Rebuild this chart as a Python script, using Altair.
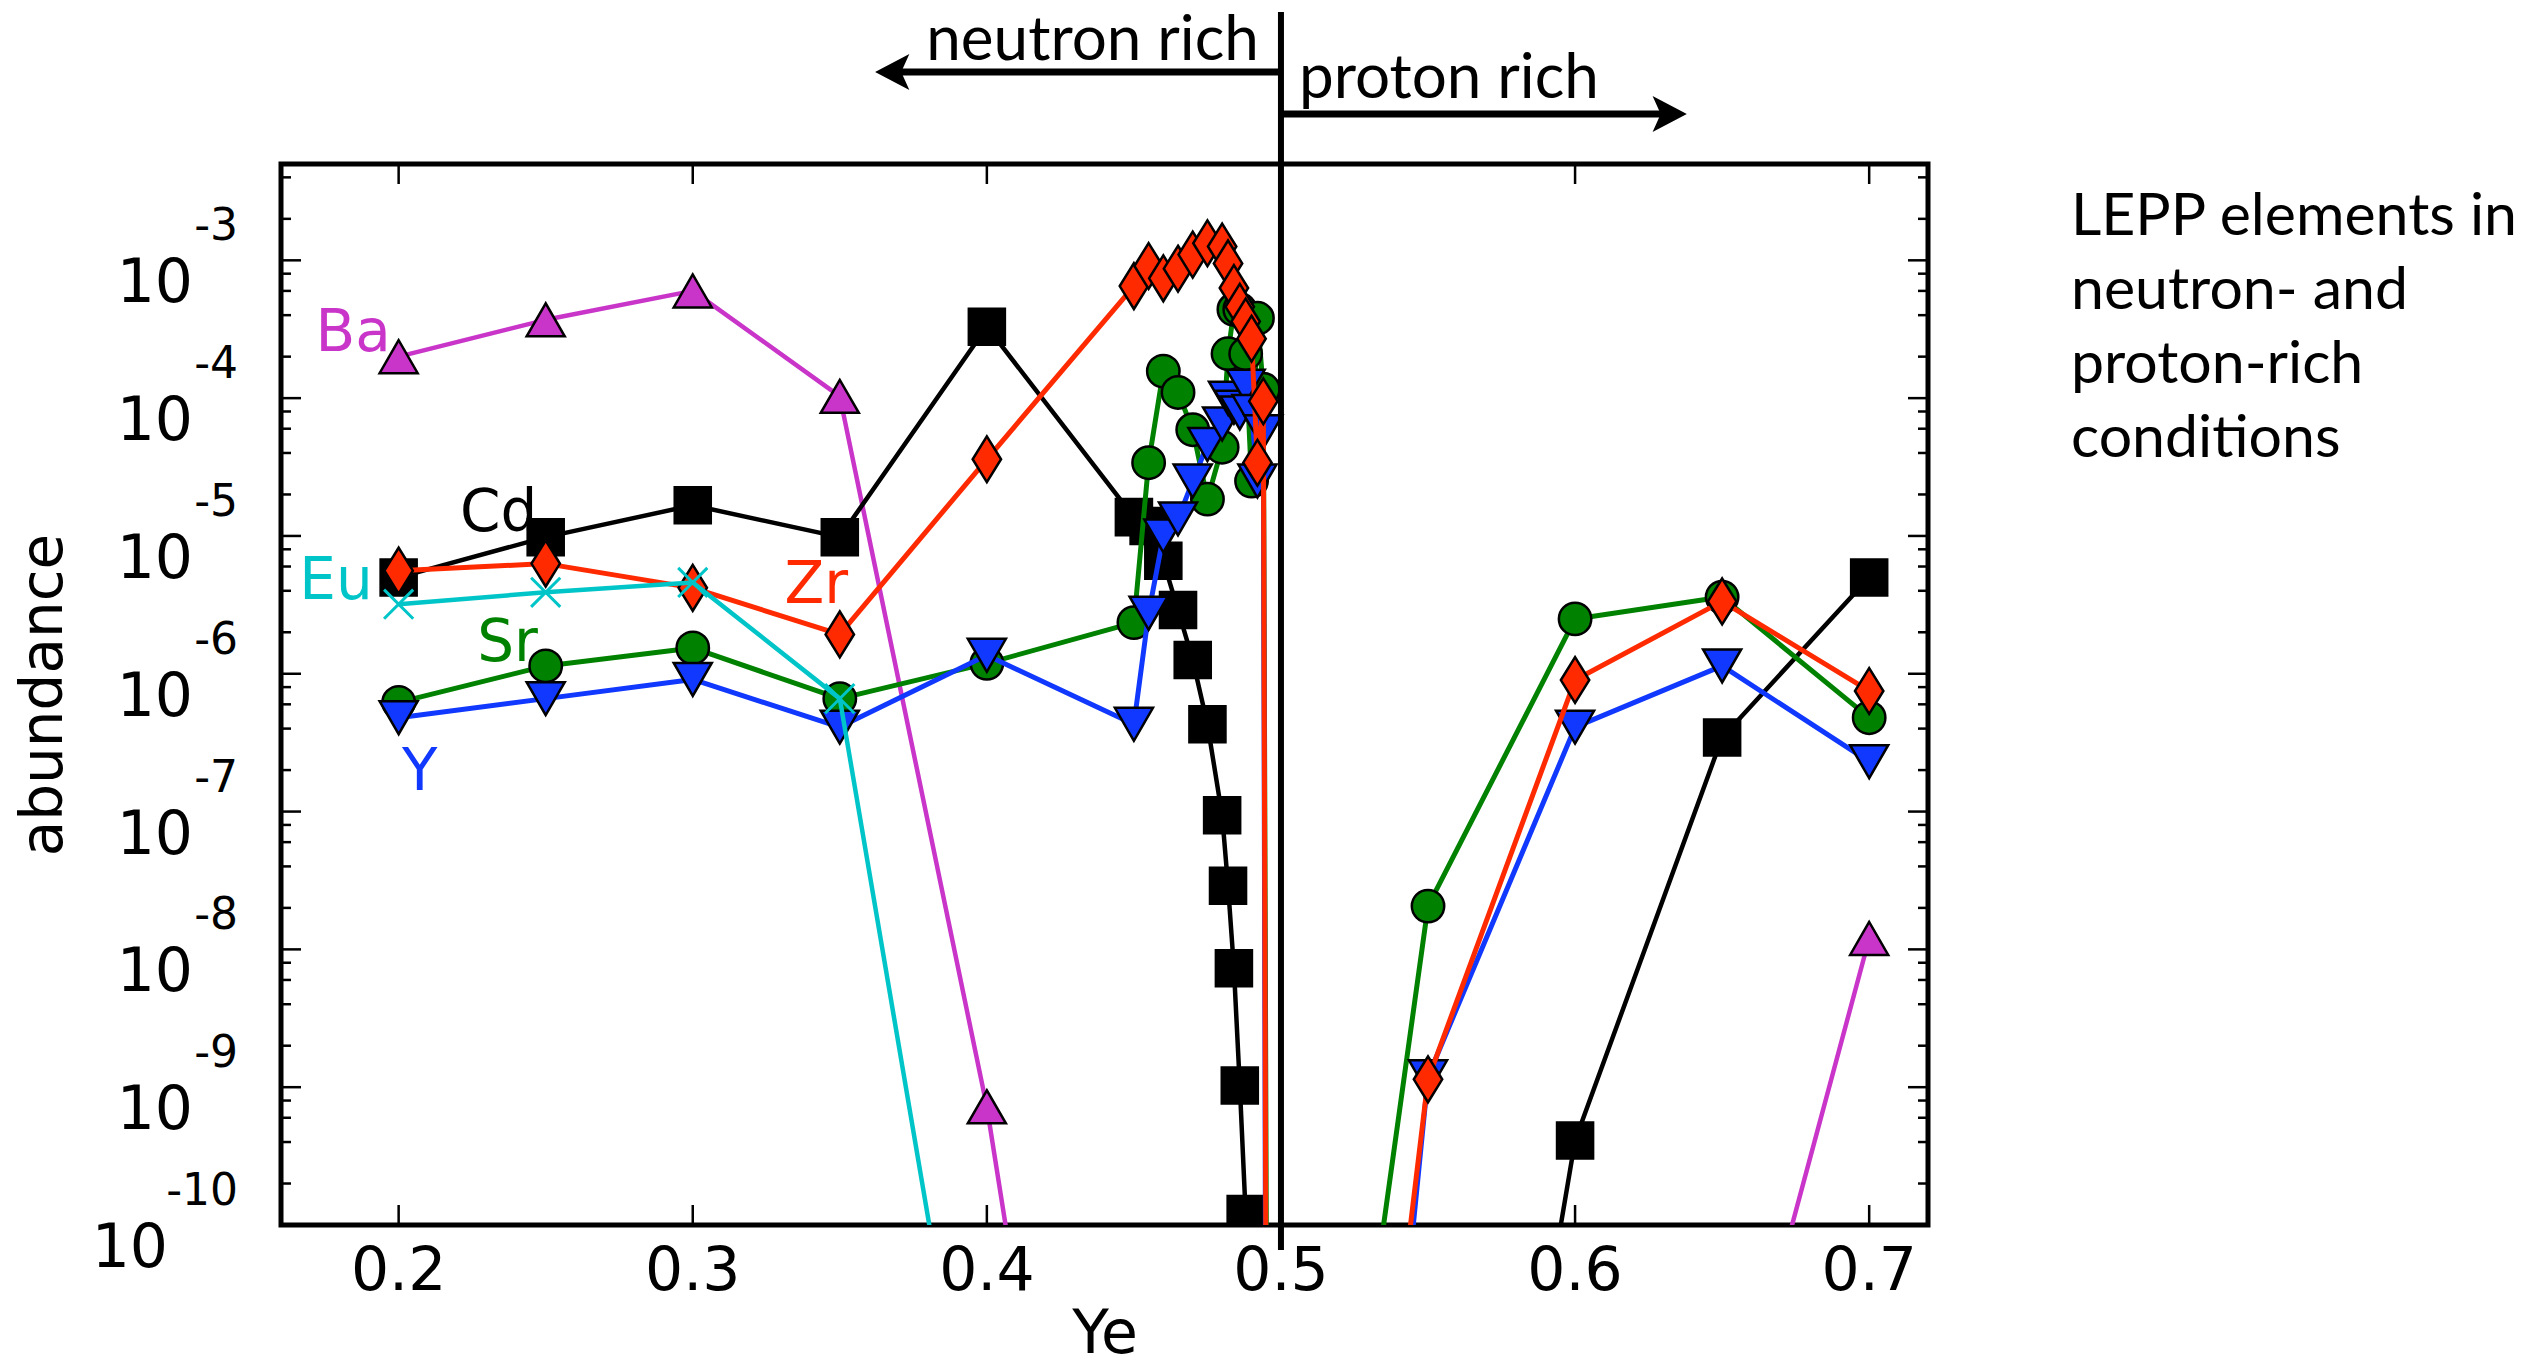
import altair as alt
import pandas as pd

# ---------------------------------------------------------------------------
# Abundances of LEPP elements versus electron fraction Ye
# ---------------------------------------------------------------------------
YE = [0.2, 0.25, 0.3, 0.35, 0.4, 0.45, 0.455, 0.46, 0.465, 0.47, 0.475, 0.48,
      0.482, 0.484, 0.486, 0.488, 0.49, 0.492, 0.494, 0.496, 0.55, 0.6, 0.65, 0.7]

N = None  # no value for this Ye

BA = [2.0e-4, 3.7e-4, 6.0e-4, 1.03e-4, 7.2e-10, 1.3e-16, N, N, N, N, N, N,
      N, N, N, N, N, N, N, N, N, N, 1.3e-12, 1.2e-8]
CD = [5.0e-6, 9.8e-6, 1.67e-5, 9.8e-6, 3.3e-4, 1.37e-5, 1.18e-5, 6.6e-6, 2.9e-6, 1.26e-6, 4.3e-7, 9.4e-8,
      2.9e-8, 7.3e-9, 1.03e-9, 1.2e-10, N, N, N, N, 2.0e-16, 4.1e-10, 3.45e-7, 5.0e-6]
SR = [6.2e-7, 1.14e-6, 1.54e-6, 6.6e-7, 1.19e-6, 2.35e-6, 3.4e-5, 1.57e-4, 1.1e-4, 5.9e-5, 1.85e-5, 4.4e-5,
      2.1e-4, 4.4e-4, 4.4e-4, 2.1e-4, 2.5e-5, 3.8e-4, 1.16e-4, 1.1e-16, 2.06e-8, 2.5e-6, 3.6e-6, 4.8e-7]
Y = [4.8e-7, 6.6e-7, 9.1e-7, 4.1e-7, 1.36e-6, 4.3e-7, 2.75e-6, 1.0e-5, 1.33e-5, 2.5e-5, 4.6e-5, 6.5e-5,
     1.0e-4, 8.6e-5, 7.8e-5, 1.22e-4, 8.0e-5, 2.5e-5, 5.7e-5, 3.0e-21, 1.19e-9, 4.1e-7, 1.14e-6, 2.3e-7]
ZR = [5.6e-6, 6.3e-6, 4.2e-6, 1.93e-6, 3.6e-5, 6.5e-4, 9.1e-4, 7.4e-4, 8.7e-4, 1.1e-3, 1.33e-3, 1.26e-3,
      9.5e-4, 6.3e-4, 4.6e-4, 3.6e-4, 2.7e-4, 3.4e-5, 9.5e-5, 3.0e-19, 1.14e-9, 9.0e-7, 3.35e-6, 7.5e-7]
EU = [3.2e-6, 3.9e-6, 4.6e-6, 6.6e-7, 3.5e-13, N, N, N, N, N, N, N,
      N, N, N, N, N, N, N, N, N, N, N, N]

SERIES = {"Ba": BA, "Cd": CD, "Sr": SR, "Y": Y, "Zr": ZR, "Eu": EU}
DRAW_ORDER = ["Ba", "Cd", "Sr", "Y", "Zr", "Eu"]

COLORS = {"Ba": "#C935C9", "Cd": "#000000", "Sr": "#008200", "Y": "#1038FF",
          "Zr": "#FF2A00", "Eu": "#00C5C8"}

# element name labels placed next to their curves (Ye, abundance)
LABEL_NAMES = ["Ba", "Cd", "Eu", "Zr", "Sr", "Y"]
LABEL_YE = [0.1845, 0.234, 0.1787, 0.342, 0.237, 0.2072]
LABEL_AB = [2.9e-4, 1.45e-5, 4.6e-6, 4.3e-6, 1.65e-6, 1.92e-7]

YE_BOUNDARY = 0.5
NEUTRON_ARROW_TIP = 0.362
PROTON_ARROW_TIP = 0.638

X_TICKS = [0.2, 0.3, 0.4, 0.5, 0.6, 0.7]
X_TICK_LABELS = ["0.2", "0.3", "0.4", "0.5", "0.6", "0.7"]
Y_EXPONENTS = [-3, -4, -5, -6, -7, -8, -9, -10]
Y_MAJOR = [10.0 ** k for k in Y_EXPONENTS]
Y_MINOR = [m * 10.0 ** k for k in range(-10, -2) for m in (2, 4, 6, 8) if m * 10.0 ** k < 5e-3]

SIDE_NOTE = "LEPP elements in\nneutron- and\nproton-rich\nconditions"

# ---------------------------------------------------------------------------
W, H = 1647, 1061
AXFONT = "DejaVu Sans"
NOTEFONT = "Lato"

xs = alt.Scale(domain=[0.16, 0.72], nice=False, zero=False)
ys = alt.Scale(type="log", domain=[1e-10, 5e-3], nice=False)


def xq(f):
    return alt.X(f"{f}:Q", scale=xs, axis=None)


def yq(f):
    return alt.Y(f"{f}:Q", scale=ys, axis=None)


def one_row():
    return pd.DataFrame({"k": [0]})


rows = []
for name, vals in SERIES.items():
    for ye, v in zip(YE, vals):
        if v is not None:
            rows.append({"ye": ye, "abundance": v, "element": name})
df = pd.DataFrame(rows)

THIN_DIAMOND = "M0,-1L0.62,0L0,1L-0.62,0Z"
X_CROSS = "M-1,-1L1,1M-1,1L1,-1"

MARKERS = {
    "Ba": dict(shape="triangle-up", size=1450),
    "Cd": dict(shape="square", size=1300),
    "Sr": dict(shape="circle", size=1050),
    "Y": dict(shape="triangle-down", size=1450),
    "Zr": dict(shape=THIN_DIAMOND, size=2100),
}

layers = []

# element name labels (drawn first so the curves sit on top)
lab_df = pd.DataFrame({"element": LABEL_NAMES, "ye": LABEL_YE, "abundance": LABEL_AB})
layers.append(
    alt.Chart(lab_df).mark_text(font=AXFONT, fontSize=58, align="center", baseline="middle").encode(
        x=xq("ye"), y=yq("abundance"), text="element:N",
        color=alt.Color("element:N", scale=alt.Scale(domain=list(COLORS.keys()),
                                                     range=list(COLORS.values())), legend=None),
    )
)

for name in DRAW_ORDER:
    col = COLORS[name]
    base = alt.Chart(df).transform_filter(alt.datum.element == name)
    lw = 4.5 if name in ("Cd", "Ba", "Eu") else 5
    layers.append(
        base.mark_line(color=col, strokeWidth=lw, clip=True, strokeJoin="round").encode(
            x=xq("ye"), y=yq("abundance"), order="ye:Q")
    )
    if name == "Eu":
        layers.append(
            base.mark_point(shape=X_CROSS, size=850, filled=False, stroke=col, strokeWidth=3,
                            opacity=1, clip=True).encode(x=xq("ye"), y=yq("abundance"))
        )
    else:
        m = MARKERS[name]
        layers.append(
            base.mark_point(shape=m["shape"], size=m["size"], filled=True, fill=col, stroke="black",
                            strokeWidth=2.5, opacity=1, fillOpacity=1, strokeOpacity=1,
                            clip=True).encode(x=xq("ye"), y=yq("abundance"))
        )

# inward ticks on all four sides
maj_df = pd.DataFrame({"v": Y_MAJOR})
min_df = pd.DataFrame({"v": Y_MINOR})
xt_df = pd.DataFrame({"v": X_TICKS, "label": X_TICK_LABELS})
tick = dict(color="black", strokeWidth=2.5)
layers += [
    alt.Chart(maj_df).mark_rule(**tick).encode(y=yq("v"), x=alt.value(0), x2=alt.value(20)),
    alt.Chart(min_df).mark_rule(**tick).encode(y=yq("v"), x=alt.value(0), x2=alt.value(10)),
    alt.Chart(maj_df).mark_rule(**tick).encode(y=yq("v"), x=alt.value(W), x2=alt.value(W - 20)),
    alt.Chart(min_df).mark_rule(**tick).encode(y=yq("v"), x=alt.value(W), x2=alt.value(W - 10)),
    alt.Chart(xt_df).mark_rule(**tick).encode(x=xq("v"), y=alt.value(H), y2=alt.value(H - 20)),
    alt.Chart(xt_df).mark_rule(**tick).encode(x=xq("v"), y=alt.value(0), y2=alt.value(20)),
]

# tick labels: x as plain numbers, y as 10 with a raised exponent
exp_df = pd.DataFrame({"v": Y_MAJOR, "exp": [str(k) for k in Y_EXPONENTS]})
layers += [
    alt.Chart(xt_df).mark_text(font=AXFONT, fontSize=60, align="center", baseline="middle").encode(
        x=xq("v"), y=alt.value(H + 47), text="label:N"),
    alt.Chart(exp_df).transform_filter("datum.v > 5e-10").mark_text(
        font=AXFONT, fontSize=60, align="right", baseline="middle", dy=24).encode(
        y=yq("v"), x=alt.value(-88), text=alt.value("10")),
    alt.Chart(exp_df).transform_filter("datum.v < 5e-10").mark_text(
        font=AXFONT, fontSize=60, align="right", baseline="middle", dy=24).encode(
        y=yq("v"), x=alt.value(-113), text=alt.value("10")),
    alt.Chart(exp_df).mark_text(font=AXFONT, fontSize=44, align="right", baseline="middle", dy=-33).encode(
        y=yq("v"), x=alt.value(-43), text="exp:N"),
    alt.Chart(one_row()).mark_text(font=AXFONT, fontSize=60, align="center", baseline="middle").encode(
        x=alt.value(824), y=alt.value(H + 110), text=alt.value("Ye")),
    alt.Chart(one_row()).mark_text(font=AXFONT, fontSize=58, align="center", baseline="middle",
                                   angle=270).encode(
        x=alt.value(-236), y=alt.value(531), text=alt.value("abundance")),
]

# neutron-rich / proton-rich divider and arrows
bound_df = pd.DataFrame({"ye": [YE_BOUNDARY]})
arrow_df = pd.DataFrame({"ye": [YE_BOUNDARY], "ntip": [NEUTRON_ARROW_TIP], "ptip": [PROTON_ARROW_TIP]})
LEFT_HEAD = "M0,0L1.9,-1L1.45,0L1.9,1Z"
RIGHT_HEAD = "M0,0L-1.9,-1L-1.45,0L-1.9,1Z"
layers += [
    alt.Chart(bound_df).mark_rule(color="black", strokeWidth=6).encode(
        x=xq("ye"), y=alt.value(-152), y2=alt.value(H + 25)),
    alt.Chart(arrow_df).transform_calculate(nend="datum.ntip + 0.005").mark_rule(
        color="black", strokeWidth=7).encode(x=xq("ye"), x2="nend:Q", y=alt.value(-92)),
    alt.Chart(arrow_df).transform_calculate(pend="datum.ptip - 0.005").mark_rule(
        color="black", strokeWidth=7).encode(x=xq("ye"), x2="pend:Q", y=alt.value(-50)),
    alt.Chart(arrow_df).mark_point(shape=LEFT_HEAD, size=1300, filled=True, color="black",
                                   opacity=1).encode(x=xq("ntip"), y=alt.value(-92)),
    alt.Chart(arrow_df).mark_point(shape=RIGHT_HEAD, size=1300, filled=True, color="black",
                                   opacity=1).encode(x=xq("ptip"), y=alt.value(-50)),
    alt.Chart(bound_df).mark_text(font=NOTEFONT, fontSize=62, align="right", baseline="alphabetic",
                                  dx=-22).encode(x=xq("ye"), y=alt.value(-104),
                                                  text=alt.value("neutron rich")),
    alt.Chart(bound_df).mark_text(font=NOTEFONT, fontSize=62, align="left", baseline="alphabetic",
                                  dx=18).encode(x=xq("ye"), y=alt.value(-66),
                                                 text=alt.value("proton rich")),
    alt.Chart(one_row()).mark_text(font=NOTEFONT, fontSize=59, align="left", baseline="alphabetic",
                                   lineBreak="\n", lineHeight=74).encode(
        x=alt.value(1790), y=alt.value(71), text=alt.value(SIDE_NOTE)),
]

chart = alt.layer(*layers).properties(
    width=W,
    height=H,
    padding={"left": 281, "top": 164, "right": 2547 - 281 - W, "bottom": 1370 - 164 - H},
    autosize=alt.AutoSizeParams(type="none"),
    background="white",
).configure_view(stroke="black", strokeWidth=5)

chart.save("out.html", embed_options={"renderer": "svg", "actions": False})
